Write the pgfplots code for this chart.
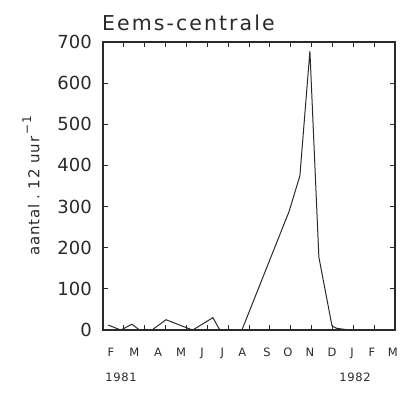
\documentclass[border=0pt]{standalone}
\usepackage{fontspec}
\setmainfont{DejaVu Sans}
\usepackage{pgfplots}
\pgfplotsset{compat=1.18}
\newfontfamily\titlefont[LetterSpace=10]{DejaVu Sans}
\newfontfamily\labfont[LetterSpace=6]{DejaVu Sans}
\definecolor{ink}{HTML}{2A2A2A}
\tikzset{month/.style={font=\fontsize{11.5}{12}\labfont, text=ink, anchor=base, inner sep=0pt, yshift=-26pt}}
\begin{document}
\begin{tikzpicture}
\begin{axis}[
  at={(0,0)}, anchor=south west,
  scale only axis, width=292pt, height=288pt,
  xmin=0, xmax=14, ymin=0, ymax=700,
  axis line style={ink, line width=1.1pt},
  xtick={1,2,3,4,5,6,7,8,9,10,11,12,13},
  xticklabels={},
  ytick={0,100,200,300,400,500,600,700},
  tick align=inside,
  major tick length=5pt,
  tick style={draw=ink, line width=0.9pt},
  yticklabel style={font=\fontsize{18}{20}\selectfont, text=ink, anchor=east, xshift=-11pt, inner sep=0pt},
  /pgf/number format/assume math mode=true,
  clip=false,
]
\addplot[ink, line width=1.0pt] coordinates {
(0.25,12) (0.85,0) (1.39,14) (1.75,0) (2.35,0) (3.02,25) (4.03,5) (4.3,0)
(5.27,30) (5.6,0) (6.66,0) (8.92,288) (9.44,375) (9.92,678) (10.35,177)
(10.98,10) (11.2,4) (11.85,0)
};
\pgfplotsinvokeforeach{1,2,3,4,5,6,7,8,9,10,11,12,13}{
  \draw[ink, line width=0.9pt] (axis cs:#1,0) -- ++(0,5pt);
  \draw[ink, line width=0.9pt] (axis cs:#1,700) -- ++(0,-5pt);
}
\pgfplotsinvokeforeach{100,200,300,400,500,600}{
  \draw[ink, line width=0.9pt] (axis cs:0,#1) -- ++(5pt,0);
  \draw[ink, line width=0.9pt] (axis cs:14,#1) -- ++(-5pt,0);
}
\node[month] at (axis cs:0.38,0) {F};
\node[month] at (axis cs:1.5,0) {M};
\node[month] at (axis cs:2.64,0) {A};
\node[month] at (axis cs:3.74,0) {M};
\node[month] at (axis cs:4.75,0) {J};
\node[month] at (axis cs:5.72,0) {J};
\node[month] at (axis cs:6.68,0) {A};
\node[month] at (axis cs:7.86,0) {S};
\node[month] at (axis cs:8.87,0) {O};
\node[month] at (axis cs:9.92,0) {N};
\node[month] at (axis cs:10.98,0) {D};
\node[month] at (axis cs:11.94,0) {J};
\node[month] at (axis cs:12.89,0) {F};
\node[month] at (axis cs:13.9,0) {M};
\end{axis}
\node[anchor=base west, font=\fontsize{20.5}{22}\titlefont, text=ink, inner sep=0pt] at (-1pt,300pt) {Eems-centrale};
\node[rotate=90, anchor=center, font=\fontsize{15}{16}\labfont, text=ink, inner sep=0pt] at (-72pt,144pt) {aantal\hspace{0.35em}.\hspace{0.35em}12 uur\raisebox{0.55em}{\fontsize{12}{12}\selectfont \,−1}};
\node[anchor=base, font=\fontsize{11.5}{12}\labfont, text=ink, inner sep=0pt] at (18pt,-51pt) {1981};
\node[anchor=base, font=\fontsize{11.5}{12}\labfont, text=ink, inner sep=0pt] at (252pt,-51pt) {1982};
\path (-103pt,-62pt) rectangle (300pt,330pt);
\end{tikzpicture}
\end{document}
